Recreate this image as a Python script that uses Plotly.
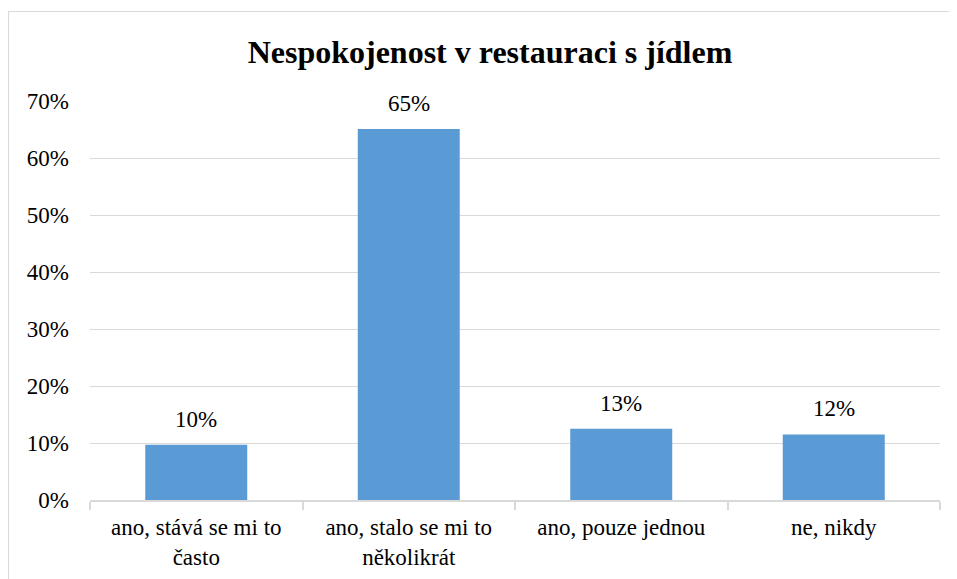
import plotly.graph_objects as go

# survey answers and shares
categories = ["ano, stává se mi to<br>často", "ano, stalo se mi to<br>několikrát",
              "ano, pouze jednou", "ne, nikdy"]
shares = [0.097, 0.651, 0.125, 0.115]
share_labels = ["10%", "65%", "13%", "12%"]

bar_color = "#5B9BD5"
grid_color = "#D9D9D9"
font_family = "Liberation Serif"

# page body adds an 8px offset, so the figure is laid out 8px up/left
W, H = 957, 579
ml, mr, mt, mb = 82, 25, 93, 87
pw, ph = W - ml - mr, H - mt - mb

fig = go.Figure()
fig.add_trace(go.Bar(
    x=categories,
    y=shares,
    marker=dict(color=bar_color, line=dict(width=0)),
    hoverinfo="x+y",
))

# value labels above bars
for c, v, t in zip(categories, shares, share_labels):
    fig.add_annotation(x=c, y=v, text=t, showarrow=False, yanchor="bottom",
                       yshift=11, font=dict(size=23, color="#000000", family=font_family))

# outer chart border (left and top visible)
fig.add_shape(type="rect", xref="paper", yref="paper",
              x0=(0.5 - ml) / pw, x1=(W + 5 - ml) / pw,
              y0=-(mb + 10) / ph, y1=1 + (mt - 3.5) / ph,
              line=dict(color=grid_color, width=1.2), fillcolor="rgba(0,0,0,0)", layer="below")

fig.update_layout(
    width=W, height=H,
    margin=dict(l=ml, r=mr, t=mt, b=mb),
    paper_bgcolor="white", plot_bgcolor="white",
    font=dict(family=font_family, size=22, color="#000000"),
    title=dict(text="<b>Nespokojenost v restauraci s jídlem</b>", x=(490 - 8) / W, xanchor="center",
               y=1 - 44 / H, yanchor="middle", yref="container",
               font=dict(size=32, family=font_family, color="#000000")),
    bargap=0.52,
    showlegend=False,
    xaxis=dict(
        showgrid=False, showline=True, linecolor=grid_color, linewidth=1.5,
        ticks="outside", tickson="boundaries", ticklen=8, tickcolor=grid_color, tickwidth=1.5,
        tickfont=dict(size=23, family=font_family, color="#000000"), ticklabelstandoff=6,
    ),
    yaxis=dict(
        range=[0, 0.7], dtick=0.1, tickformat=".0%",
        showgrid=True, gridcolor=grid_color, gridwidth=1.2,
        zeroline=False, showline=False, ticks="",
        tickfont=dict(size=23, family=font_family, color="#000000"), ticklabelstandoff=20,
    ),
)

fig.write_html("out.html")
